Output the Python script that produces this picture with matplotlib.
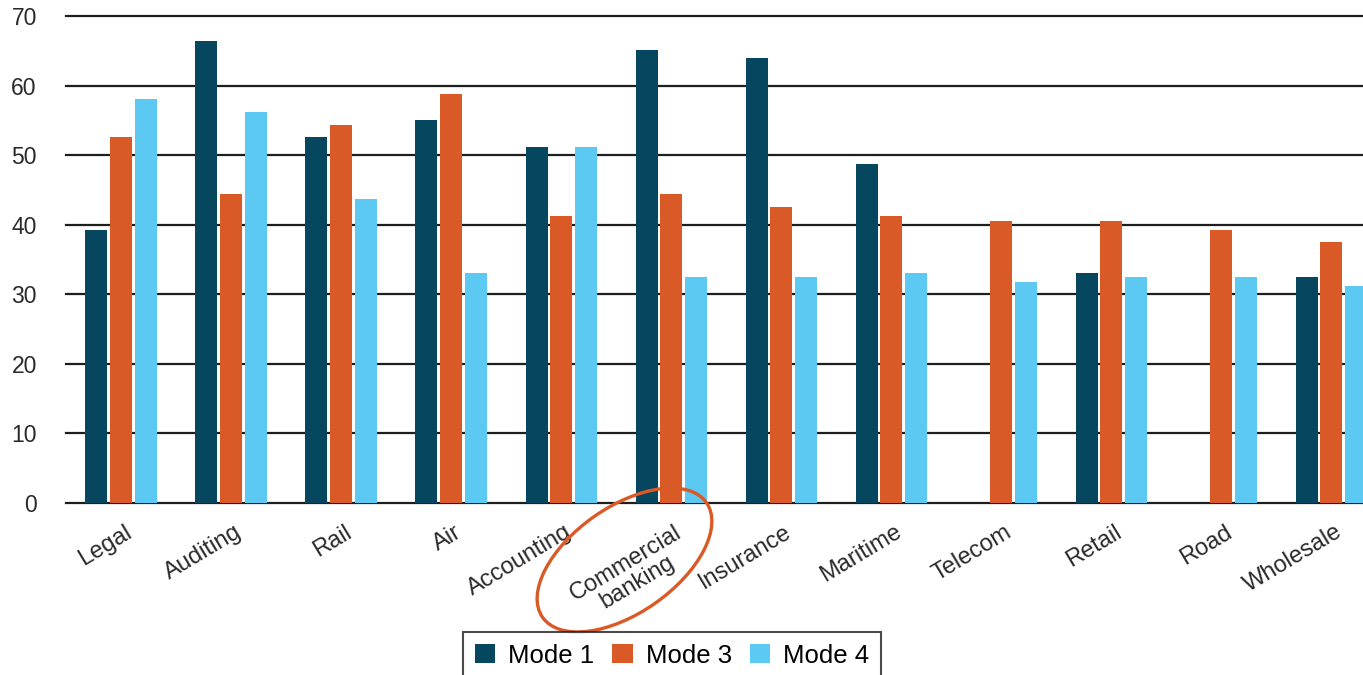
import numpy as np
import matplotlib
matplotlib.use("Agg")
import matplotlib.pyplot as plt
from matplotlib.patches import Ellipse

sectors = ["Legal", "Auditing", "Rail", "Air", "Accounting", "Commercial\nbanking",
           "Insurance", "Maritime", "Telecom", "Retail", "Road", "Wholesale"]
mode1 = [39.3, 66.4, 52.6, 55.0, 51.2, 65.1, 63.9, 48.7, np.nan, 33.1, np.nan, 32.5]
mode3 = [52.6, 44.4, 54.4, 58.8, 41.2, 44.4, 42.5, 41.2, 40.6, 40.5, 39.3, 37.5]
mode4 = [58.1, 56.2, 43.7, 33.1, 51.2, 32.5, 32.5, 33.1, 31.8, 32.5, 32.5, 31.2]
series_names = ["Mode 1", "Mode 3", "Mode 4"]
colors = ["#06465f", "#d95a27", "#5bc9f1"]
y_ticks = [0, 10, 20, 30, 40, 50, 60, 70]

plt.rcParams["font.family"] = ["Liberation Sans", "DejaVu Sans"]

fig = plt.figure(figsize=(13.63, 6.75), dpi=100)
ax = fig.add_axes([66 / 1363, 1 - 503 / 675, 1 - 66 / 1363, (503 - 16) / 675])

x = np.arange(len(sectors))
step = 0.223
width = 0.2
for i, (vals, name, c) in enumerate(zip([mode1, mode3, mode4], series_names, colors)):
    ax.bar(x + (i - 1) * step, vals, width=width, color=c, label=name, zorder=2)

ax.set_ylim(0, 70)
ax.set_xlim(-0.5, 11.29)
ax.set_yticks(y_ticks)
ax.set_yticklabels([str(t) for t in y_ticks], fontsize=16.5, color="#2a2a2a")
ax.tick_params(axis="y", length=0, pad=21)
ax.tick_params(axis="x", length=0, pad=13)
ax.yaxis.grid(True, color="#1e1e1e", lw=1.6)
ax.set_axisbelow(True)
for ln in ax.get_ygridlines():
    ln.set_clip_on(False)
for s in ax.spines.values():
    s.set_visible(False)

ax.set_xticks(x + 0.03)
ax.set_xticklabels(sectors, rotation=31, ha="right", va="top", rotation_mode="anchor",
                   fontsize=17, color="#2a2a2a", multialignment="center", linespacing=1.0)

# highlight around "Commercial banking"
ell = Ellipse((6.245, 1.15), 2.0, 1.06, angle=35, transform=fig.dpi_scale_trans,
              fill=False, edgecolor="#d95a27", lw=2.4, clip_on=False)
fig.add_artist(ell)

leg = fig.legend(loc="upper center", bbox_to_anchor=(672 / 1363, 1 - 632 / 675), ncol=3,
                 fontsize=18.5, frameon=True, fancybox=False, edgecolor="#1e1e1e",
                 handlelength=0.8, handleheight=0.8, handletextpad=0.5,
                 columnspacing=0.7, borderpad=0.45, borderaxespad=0)
leg.get_frame().set_linewidth(1.5)

fig.savefig("out.png", dpi=100)
